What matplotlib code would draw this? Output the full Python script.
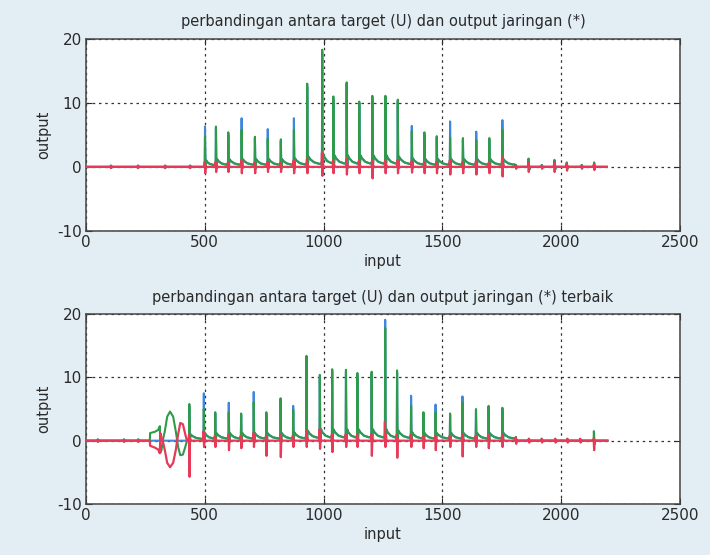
import numpy as np
import matplotlib
matplotlib.use("Agg")
import matplotlib.pyplot as plt

plt.rcParams['font.family'] = ['DejaVu Sans']
plt.rcParams['axes.unicode_minus'] = False

# ---- panel 1 : jaringan awal ----
top_beat_x = [501, 547, 599, 655, 711, 765, 820, 875, 931, 994, 1041, 1097, 1150, 1205,
              1260, 1312, 1371, 1424, 1476, 1532, 1586, 1642, 1697, 1752,
              1809, 1862, 1918, 1971, 2023, 2086, 2138]
top_output_peak = [4.7, 6.3, 5.4, 5.8, 4.7, 4.4, 4.3, 5.8, 13.0, 18.3, 11.0, 13.2, 10.2, 11.1,
                   11.1, 10.5, 5.6, 5.4, 4.8, 4.6, 4.5, 4.2, 4.5, 5.8,
                   0.3, 1.3, 0.3, 1.1, 0.7, 0.3, 0.7]
top_target_peak = [6.3, 6.0, 5.0, 7.6, 4.5, 5.9, 4.0, 7.6, 12.5, 18.0, 10.5, 13.0, 10.0, 10.8,
                   10.8, 10.2, 6.4, 5.0, 4.6, 7.1, 4.2, 5.5, 4.3, 7.3,
                   0.3, 1.0, 0.3, 0.9, 0.6, 0.3, 0.6]
top_output_tail = [1.0, 1.2, 1.2, 1.2, 1.2, 1.2, 1.2, 1.3, 1.6, 2.0, 1.8, 1.8, 1.8, 1.8,
                   1.8, 1.6, 1.3, 1.2, 1.2, 1.2, 1.2, 1.2, 1.2, 1.2,
                   0, 0, 0, 0, 0, 0, 0]
top_error_high = [0.8, 0.8, 0.7, 1.0, 0.7, 0.8, 0.7, 1.0, 1.2, 2.2, 1.0, 1.2, 1.0, 1.0,
                  1.0, 1.0, 0.9, 0.8, 0.8, 1.0, 0.8, 0.9, 0.8, 1.5,
                  0.2, 0.6, 0.2, 0.6, 0.5, 0.2, 0.4]
top_error_low = [-1.0, -0.8, -0.8, -1.0, -1.0, -0.8, -0.8, -1.0, -1.0, -1.4, -1.0, -1.2, -1.0, -1.8,
                 -1.0, -1.0, -0.9, -1.0, -1.0, -1.2, -1.0, -1.2, -1.0, -1.5,
                 -0.3, -0.8, -0.3, -0.8, -0.6, -0.3, -0.5]
top_pre_x = [105, 219, 333, 438]
top_pre_h = [0.2, 0.2, 0.2, 0.2]
top_end = 2191

# ---- panel 2 : jaringan terbaik ----
bot_beat_x = [435, 496, 544, 601, 653, 706, 759, 819, 872, 928, 984, 1036, 1094, 1142,
              1202, 1259, 1309, 1368, 1420, 1471, 1532, 1584, 1641, 1694, 1752,
              1809, 1864, 1918, 1975, 2026, 2080, 2137]
bot_output_peak = [5.8, 5.0, 4.5, 4.5, 4.3, 6.1, 4.5, 6.7, 4.9, 13.4, 10.4, 11.3, 11.2, 10.7,
                   10.9, 17.8, 11.1, 5.5, 4.5, 4.5, 4.3, 6.0, 5.0, 5.5, 5.2,
                   0.6, 0.3, 0.3, 0.3, 0.3, 0.3, 1.5]
bot_target_peak = [5.5, 7.5, 4.3, 6.0, 4.1, 7.7, 4.3, 6.5, 5.5, 13.0, 10.0, 11.0, 10.9, 10.4,
                   10.6, 19.1, 10.8, 7.1, 4.3, 5.7, 4.1, 7.0, 4.8, 5.3, 5.0,
                   0.4, 0.2, 0.2, 0.2, 0.2, 0.2, 0.3]
bot_output_tail = [1.0, 1.2, 1.2, 1.2, 1.2, 1.2, 1.2, 1.2, 1.3, 1.6, 1.8, 1.8, 1.8, 1.8,
                   1.8, 1.8, 1.6, 1.3, 1.2, 1.2, 1.2, 1.2, 1.2, 1.2, 1.2,
                   0, 0, 0, 0, 0, 0, 0]
bot_error_high = [1.0, 1.5, 0.8, 1.0, 0.8, 1.2, 0.8, 1.0, 0.8, 1.5, 1.8, 1.0, 1.0, 1.0,
                  1.0, 3.0, 1.0, 1.0, 0.8, 0.8, 0.8, 1.0, 0.8, 1.0, 1.0,
                  0.5, 0.3, 0.3, 0.3, 0.3, 0.3, 0.3]
bot_error_low = [-5.7, -1.0, -1.0, -1.5, -1.2, -1.0, -2.4, -2.6, -1.0, -1.0, -1.3, -1.8, -1.0, -1.0,
                 -2.4, -1.0, -2.7, -1.0, -1.2, -1.5, -1.0, -2.5, -1.0, -1.2, -1.0,
                 -0.5, -0.3, -0.3, -0.3, -0.3, -0.3, -1.5]
bot_pre_x = [50, 160, 220]
bot_pre_h = [0.2, 0.2, 0.2]
bot_end = 2194

# osilasi awal jaringan terbaik (sebelum denyut pertama)
bot_onset_x = [262, 269, 270, 290, 304, 311, 313, 318, 325, 332, 342, 354, 367, 378,
               383, 388, 397, 408, 418, 425, 430]
bot_onset_output = [0, 0.1, 1.2, 1.4, 1.7, 2.3, -1.9, -1.5, 0.3, 1.5, 3.8, 4.6, 3.8, 1.5,
                    0.2, -1.0, -2.3, -2.2, -1.0, 0, 0.1]
bot_onset_error = [0, -0.1, -0.8, -1.1, -1.4, -2.0, 1.2, 0.5, -0.3, -1.5, -3.5, -4.2, -3.5, -1.5,
                   -0.2, 1.0, 2.8, 2.6, 1.0, 0, 0]

c_target = '#3f86dc'
c_output = '#2f9a4a'
c_error = '#e63a58'
c_text = '#2a2a2a'
c_bg = '#e3eef4'


def beat_trace(xs, peaks, tails, end, pre_x, pre_h, extra_x=(), extra_y=()):
    pts = [(0.0, 0.0)]
    for x0, h in zip(pre_x, pre_h):
        pts += [(x0 - 3, 0), (x0, h), (x0 + 3, -0.5 * h), (x0 + 5, 0)]
    pts += list(zip(extra_x, extra_y))
    for i, (x0, p, t) in enumerate(zip(xs, peaks, tails)):
        nxt = xs[i + 1] if i + 1 < len(xs) else x0 + 50
        gap = nxt - x0
        base = 0.3 * tails[i - 1] if i > 0 else 0.0
        if t > 0:
            pts += [(x0 - 4, base), (x0 - 1, base + 0.4), (x0, p), (x0 + 2, -0.3),
                    (x0 + 5, t), (x0 + 0.2 * gap, 0.75 * t), (x0 + 0.45 * gap, 0.45 * t),
                    (x0 + 0.8 * gap, 0.3 * t)]
        else:
            pts += [(x0 - 4, base), (x0 - 1, 0.15 * p), (x0, p), (x0 + 3, -0.4 * p),
                    (x0 + 6, 0), (x0 + 0.5 * gap, 0)]
    pts.append((end, 0.0))
    pts.sort(key=lambda q: q[0])
    return [q[0] for q in pts], [q[1] for q in pts]


def error_trace(xs, hi, lo, end, pre_x, pre_h, extra_x=(), extra_y=()):
    pts = [(0.0, 0.0)]
    for x0, h in zip(pre_x, pre_h):
        pts += [(x0 - 3, 0), (x0, -h), (x0 + 3, 0.5 * h), (x0 + 5, 0)]
    pts += list(zip(extra_x, extra_y))
    for x0, a, b in zip(xs, hi, lo):
        pts += [(x0 - 3, 0), (x0 - 1, a), (x0 + 1, b), (x0 + 3, 0.3 * a), (x0 + 6, 0)]
    pts.append((end, 0.0))
    pts.sort(key=lambda q: q[0])
    return [q[0] for q in pts], [q[1] for q in pts]


def style_axes(ax, title):
    ax.set_xlim(0, 2500)
    ax.set_ylim(-10, 20)
    ax.set_xticks([0, 500, 1000, 1500, 2000, 2500])
    ax.set_yticks([-10, 0, 10, 20])
    ax.grid(True, color='#333333', linestyle=(0, (2, 3)), linewidth=0.9)
    ax.tick_params(direction='in', length=4, top=True, right=True,
                   labelsize=11, colors=c_text, pad=3)
    for s in ax.spines.values():
        s.set_color('#444444')
        s.set_linewidth(1.1)
    ax.set_title(title, fontsize=10.5, color=c_text, pad=9)
    ax.set_xlabel('input', fontsize=10.5, color=c_text, labelpad=3)
    ax.set_ylabel('output', fontsize=10.5, color=c_text, labelpad=4)


fig = plt.figure(figsize=(7.1, 5.55), dpi=100, facecolor=c_bg)
ax1 = fig.add_axes([0.121, 0.584, 0.837, 0.346])
ax2 = fig.add_axes([0.121, 0.092, 0.837, 0.342])

# panel atas
tx, ty = beat_trace(top_beat_x, top_target_peak, top_output_tail, top_end, top_pre_x, top_pre_h)
ox, oy = beat_trace(top_beat_x, top_output_peak, top_output_tail, top_end, top_pre_x, top_pre_h)
ex, ey = error_trace(top_beat_x, top_error_high, top_error_low, top_end, top_pre_x, top_pre_h)
ax1.plot(tx, ty, color=c_target, lw=1.5, zorder=3)
ax1.plot(ox, oy, color=c_output, lw=1.5, zorder=4)
ax1.plot(ex, ey, color=c_error, lw=1.6, zorder=5)
style_axes(ax1, 'perbandingan antara target (U) dan output jaringan (*)')

# panel bawah
tx, ty = beat_trace(bot_beat_x, bot_target_peak, bot_output_tail, bot_end, bot_pre_x, bot_pre_h)
ox, oy = beat_trace(bot_beat_x, bot_output_peak, bot_output_tail, bot_end, bot_pre_x, bot_pre_h,
                    bot_onset_x, bot_onset_output)
ex, ey = error_trace(bot_beat_x, bot_error_high, bot_error_low, bot_end, bot_pre_x, bot_pre_h,
                     bot_onset_x, bot_onset_error)
ax2.plot(tx, ty, color=c_target, lw=1.5, zorder=3)
ax2.plot(ox, oy, color=c_output, lw=1.5, zorder=4)
ax2.plot(ex, ey, color=c_error, lw=1.6, zorder=5)
style_axes(ax2, 'perbandingan antara target (U) dan output jaringan (*) terbaik')

fig.savefig('out.png', dpi=100, facecolor=c_bg)
